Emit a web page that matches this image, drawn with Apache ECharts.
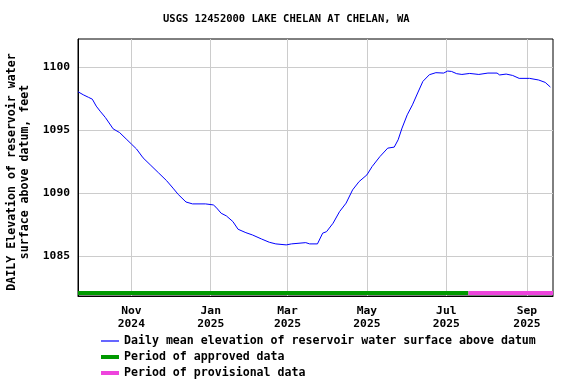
<!DOCTYPE html>
<html>
<head>
<meta charset="utf-8">
<script src="https://cdn.jsdelivr.net/npm/echarts@6/dist/echarts.min.js"></script>
<style>html,body{margin:0;padding:0;background:#fff}#c{width:576px;height:384px}</style>
</head>
<body>
<div id="c"></div>
<script>
const titleText = 'USGS 12452000 LAKE CHELAN AT CHELAN, WA';
const yAxisTitle = 'DAILY Elevation of reservoir water\nsurface above datum, feet';
const legendNames = ['Daily mean elevation of reservoir water surface above datum', 'Period of approved data', 'Period of provisional data'];

const dates = ['2024-09-21','2024-09-25','2024-09-29','2024-10-02','2024-10-05','2024-10-08','2024-10-12','2024-10-16','2024-10-18','2024-10-23','2024-10-28','2024-11-01','2024-11-05','2024-11-10','2024-11-16','2024-11-22','2024-11-28','2024-12-03','2024-12-07','2024-12-13','2024-12-18','2024-12-28','2025-01-03','2025-01-05','2025-01-09','2025-01-13','2025-01-18','2025-01-22','2025-01-28','2025-02-02','2025-02-09','2025-02-15','2025-02-20','2025-02-28','2025-03-04','2025-03-15','2025-03-18','2025-03-24','2025-03-28','2025-03-31','2025-04-05','2025-04-10','2025-04-15','2025-04-20','2025-04-25','2025-05-01','2025-05-05','2025-05-11','2025-05-17','2025-05-22','2025-05-25','2025-05-28','2025-06-01','2025-06-05','2025-06-09','2025-06-13','2025-06-18','2025-06-23','2025-06-29','2025-07-02','2025-07-05','2025-07-09','2025-07-13','2025-07-19','2025-07-26','2025-08-02','2025-08-09','2025-08-11','2025-08-16','2025-08-21','2025-08-26','2025-09-03','2025-09-10','2025-09-15','2025-09-19'];
const elevation = [1098.04,1097.80,1097.60,1097.45,1096.90,1096.50,1096.00,1095.40,1095.10,1094.80,1094.30,1093.90,1093.50,1092.80,1092.20,1091.60,1091.00,1090.40,1089.90,1089.30,1089.15,1089.15,1089.07,1088.89,1088.41,1088.20,1087.75,1087.14,1086.87,1086.69,1086.37,1086.11,1085.98,1085.90,1085.98,1086.08,1085.98,1085.98,1086.83,1086.95,1087.62,1088.54,1089.21,1090.26,1090.92,1091.45,1092.11,1092.90,1093.57,1093.65,1094.23,1095.16,1096.21,1097.00,1097.94,1098.86,1099.39,1099.55,1099.52,1099.68,1099.65,1099.47,1099.41,1099.49,1099.41,1099.52,1099.52,1099.37,1099.44,1099.33,1099.10,1099.10,1098.97,1098.78,1098.41];

const approvedPeriod = ['2024-09-21', '2025-07-18'];
const provisionalPeriod = ['2025-07-18', '2025-09-21'];
const xRange = ['2024-09-21', '2025-09-21'];
const yRange = [1081.85, 1102.22];
const yTicks = [1085, 1090, 1095, 1100];
const xTickDates = ['2024-11-01','2025-01-01','2025-03-01','2025-05-01','2025-07-01','2025-09-01'];

function ts(s) { const p = s.split('-').map(Number); return Date.UTC(p[0], p[1]-1, p[2]); }
const months = ['Jan','Feb','Mar','Apr','May','Jun','Jul','Aug','Sep','Oct','Nov','Dec'];
const barLevel = 1082.09;
const FONT = '"DejaVu Sans Mono", "Liberation Mono", monospace';
const BLUE = '#0000ff', GREEN = '#009900', PINK = '#ee44dd';

const chart = echarts.init(document.getElementById('c'), null, {renderer: 'canvas'});
chart.setOption({
  animation: false,
  backgroundColor: '#fff',
  title: {
    text: titleText, left: 163, top: 14, padding: 0,
    textStyle: {fontFamily: FONT, fontSize: 10.5, fontWeight: 'bold', color: '#000'}
  },
  grid: {left: 78, right: 23, top: 39, bottom: 88, show: true, borderColor: '#000', borderWidth: 1,
         backgroundColor: 'transparent', containLabel: false, outerBoundsMode: 'none'},
  xAxis: {
    type: 'value', min: ts(xRange[0]), max: ts(xRange[1]),
    axisLine: {show: true, onZero: false, lineStyle: {color: '#000', width: 1}},
    axisTick: {show: false, customValues: xTickDates.map(ts)},
    splitLine: {show: true, lineStyle: {color: '#cccccc', width: 1}},
    axisLabel: {
      customValues: xTickDates.map(ts), margin: 9,
      fontFamily: FONT, fontSize: 11.3, fontWeight: 'bold', color: '#000', lineHeight: 13,
      formatter: function (v) { const d = new Date(v); return months[d.getUTCMonth()] + '\n' + d.getUTCFullYear(); }
    }
  },
  yAxis: {
    type: 'value', min: yRange[0], max: yRange[1],
    name: yAxisTitle, nameLocation: 'middle', nameRotate: 90, nameGap: 41,
    nameTextStyle: {fontFamily: FONT, fontSize: 11.6, fontWeight: 'bold', color: '#000', lineHeight: 13.5, align: 'center',
                    padding: [0, 9, 0, 0]},
    axisLine: {show: true, onZero: false, lineStyle: {color: '#000', width: 1}},
    axisTick: {show: false, customValues: yTicks},
    splitLine: {show: true, lineStyle: {color: '#cccccc', width: 1}},
    axisLabel: {customValues: yTicks, margin: 8, fontFamily: FONT, fontSize: 11.3, fontWeight: 'bold', color: '#000',
                formatter: function (v) { return String(v); }}
  },
  legend: {
    orient: 'vertical', left: 101, top: 335, padding: 0, itemWidth: 18, itemHeight: 14, itemGap: 4,
    textStyle: {fontFamily: FONT, fontSize: 11.6, fontWeight: 'bold', color: '#000'},
    data: [
      {name: legendNames[0], icon: 'path://M0,0H18V1.2H0Z', itemStyle: {color: BLUE}},
      {name: legendNames[1], icon: 'path://M0,0H18V4H0Z', itemStyle: {color: GREEN}},
      {name: legendNames[2], icon: 'path://M0,0H18V4H0Z', itemStyle: {color: PINK}}
    ]
  },
  series: [
    {
      name: legendNames[0], type: 'line', symbol: 'none', showSymbol: false,
      lineStyle: {color: BLUE, width: 1}, itemStyle: {color: BLUE},
      data: dates.map((d, i) => [ts(d), elevation[i]]), z: 3
    },
    {
      name: legendNames[1], type: 'line', symbol: 'none', clip: false,
      lineStyle: {color: GREEN, width: 4}, itemStyle: {color: GREEN},
      data: approvedPeriod.map(d => [ts(d), barLevel]), z: 2
    },
    {
      name: legendNames[2], type: 'line', symbol: 'none', clip: false,
      lineStyle: {color: PINK, width: 4}, itemStyle: {color: PINK},
      data: provisionalPeriod.map(d => [ts(d), barLevel]), z: 2
    }
  ]
});
</script>
</body>
</html>
